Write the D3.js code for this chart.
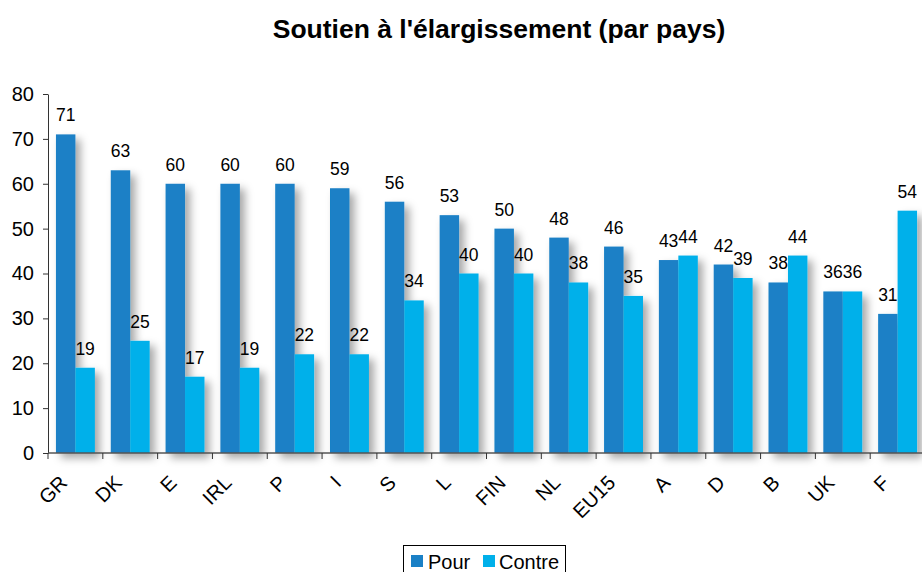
<!DOCTYPE html>
<html><head><meta charset="utf-8">
<script src="https://cdn.jsdelivr.net/npm/d3@7/dist/d3.min.js"></script>
<style>
body{margin:0;background:#fff;}
svg{display:block;font-family:"Liberation Sans",Arial,sans-serif;}
</style></head>
<body><svg id="c" width="922" height="572"></svg>
<script>
const categories = ["GR","DK","E","IRL","P","I","S","L","FIN","NL","EU15","A","D","B","UK","F"];
const pour =   [71,63,60,60,60,59,56,53,50,48,46,43,42,38,36,31];
const contre = [19,25,17,19,22,22,34,40,40,38,35,44,39,44,36,54];
const seriesNames = ["Pour","Contre"];
const colors = ["#1a80c6","#00b0ea"];
const yTicks = [0,10,20,30,40,50,60,70,80];

(function(){
const svg = d3.select("#c");
const pLeft = 48, pRight = 925, pTop = 94, pBottom = 453;

const x = d3.scaleBand().domain(categories).range([pLeft,pRight]).paddingInner(0.29).paddingOuter(0.145);
const xs = d3.scaleBand().domain(seriesNames).range([0,x.bandwidth()]);
const y = d3.scaleLinear().domain([0,80]).range([pBottom,pTop]);
const step = x.step();

const defs = svg.append("defs");
const f = defs.append("filter").attr("id","sh").attr("x","-30%").attr("y","-10%").attr("width","160%").attr("height","130%");
f.append("feDropShadow").attr("dx",5).attr("dy",5).attr("stdDeviation",4).attr("flood-color","#000").attr("flood-opacity",0.35);

svg.append("text").attr("x",499).attr("y",38).attr("text-anchor","middle")
  .attr("font-size",26.5).attr("font-weight","bold").attr("fill","#000")
  .text("Soutien à l'élargissement (par pays)");

const data = categories.map((c,i)=>({c, vals:[pour[i],contre[i]]}));

const bars = svg.append("g").attr("filter","url(#sh)");
data.forEach(d=>{
  d.vals.forEach((v,j)=>{
    bars.append("rect")
      .attr("x", x(d.c)+xs(seriesNames[j]))
      .attr("y", y(v))
      .attr("width", xs.bandwidth())
      .attr("height", y(0)-y(v))
      .attr("fill", colors[j]);
  });
});

const lab = svg.append("g").attr("font-size",17.5).attr("fill","#000").attr("text-anchor","middle");
data.forEach(d=>{
  d.vals.forEach((v,j)=>{
    lab.append("text")
      .attr("x", x(d.c)+xs(seriesNames[j])+xs.bandwidth()/2)
      .attr("y", y(v)-13)
      .text(v);
  });
});

const yAxis = d3.axisLeft(y).tickValues(yTicks).tickSize(5).tickSizeOuter(0);
const yg = svg.append("g").attr("transform",`translate(${pLeft},0)`).call(yAxis);
yg.select(".domain").attr("stroke","#333");
yg.selectAll(".tick line").attr("stroke","#333");
yg.selectAll(".tick text").attr("font-size",20).attr("fill","#000").attr("x",-14).attr("font-family","Liberation Sans, Arial, sans-serif");

const xg = svg.append("g");
xg.append("line").attr("x1",pLeft).attr("x2",922).attr("y1",pBottom).attr("y2",pBottom).attr("stroke","#555").attr("stroke-width",1.5);
d3.range(categories.length+1).forEach(i=>{
  const xx = pLeft + i*step;
  xg.append("line").attr("x1",xx).attr("x2",xx).attr("y1",pBottom).attr("y2",pBottom+6).attr("stroke","#333");
});
categories.forEach(c=>{
  const cx = x(c)+x.bandwidth()/2 - 7;
  xg.append("text").attr("transform",`translate(${cx},${pBottom+31}) rotate(-45)`)
    .attr("text-anchor","end").attr("font-size",20).attr("fill","#000").text(c);
});

const lg = svg.append("g");
lg.append("rect").attr("x",403.5).attr("y",545.5).attr("width",162).attr("height",40).attr("fill","#fff").attr("stroke","#000");
lg.append("rect").attr("x",411).attr("y",555).attr("width",12).attr("height",12).attr("fill",colors[0]);
lg.append("text").attr("x",428).attr("y",569).attr("font-size",20).text(seriesNames[0]);
lg.append("rect").attr("x",483).attr("y",555).attr("width",12).attr("height",12).attr("fill",colors[1]);
lg.append("text").attr("x",499).attr("y",569).attr("font-size",20).text(seriesNames[1]);
})();
</script></body></html>
